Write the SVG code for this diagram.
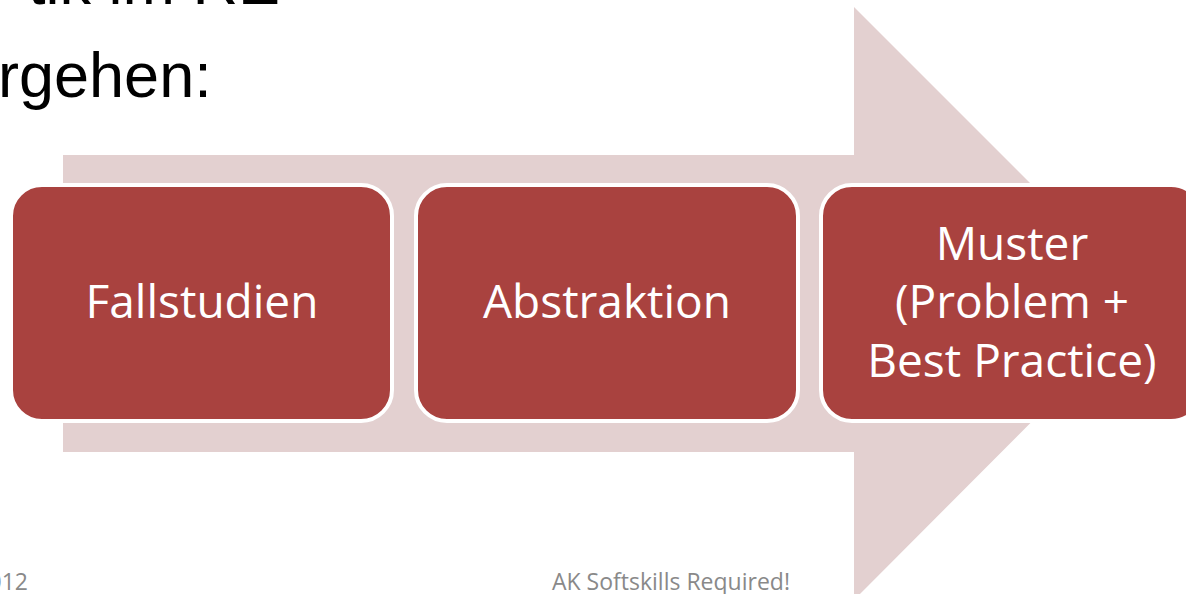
<svg xmlns="http://www.w3.org/2000/svg" width="1186" height="594" viewBox="0 0 1186 594">
  <style>
    .bullet { font-family: "Liberation Sans", Arial, sans-serif; font-size: 63px; fill: #000000; }
    .box { fill: #A9423F; stroke: #FFFFFF; stroke-width: 4; }
    .label { font-family: "Open Sans", "Noto Sans", sans-serif; font-size: 46px; fill: #FFFFFF; text-anchor: middle; }
    .footer { font-family: "Open Sans", "Noto Sans", sans-serif; font-size: 23px; fill: #898989; }
  </style>
  <rect x="0" y="0" width="1186" height="594" fill="#FFFFFF"/>
  <text class="bullet" x="280" y="4" text-anchor="end">tik im RE</text>
  <text class="bullet" x="-2" y="97">rgehen:</text>
  <g id="background-arrow">
    <polygon points="63,155 854,155 854,7 1150,303 854,600 854,452 63,452" fill="#E3D0D0"/>
  </g>
  <g id="connectors"></g>
  <g id="node-fallstudien">
    <rect class="box" x="11" y="185" width="381" height="236" rx="31" ry="31"/>
    <text class="label" x="202" y="318">Fallstudien</text>
  </g>
  <g id="node-abstraktion">
    <rect class="box" x="416" y="185" width="382" height="236" rx="31" ry="31"/>
    <text class="label" x="607" y="318">Abstraktion</text>
  </g>
  <g id="node-muster">
    <rect class="box" x="821" y="185" width="381" height="236" rx="31" ry="31"/>
    <text class="label" x="1012" y="260">Muster</text>
    <text class="label" x="1012" y="318">(Problem +</text>
    <text class="label" x="1012" y="377">Best Practice)</text>
  </g>
  <text class="footer" x="28" y="590" text-anchor="end">012</text>
  <text class="footer" x="671" y="590" text-anchor="middle">AK Softskills Required!</text>
</svg>
